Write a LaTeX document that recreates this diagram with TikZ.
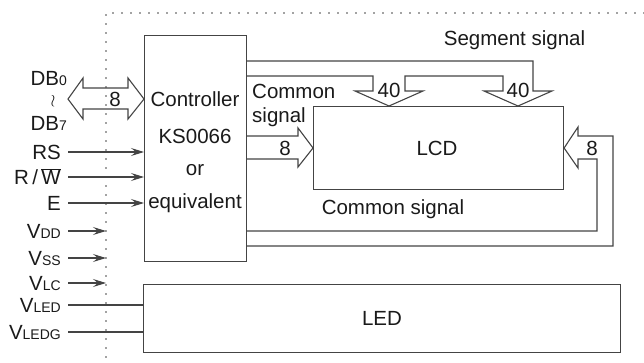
\documentclass[tikz,border=0pt]{standalone}
\usepackage{fontspec}
\setmainfont{Liberation Sans}
\usetikzlibrary{arrows.meta}
\definecolor{lncol}{HTML}{444444}
\definecolor{txcol}{HTML}{1A1A1A}
\newcommand{\sbs}[1]{{\fontsize{14}{14}\selectfont #1}}
\begin{document}
\begin{tikzpicture}[x=1pt,y=-1pt,
  wire/.style={draw=lncol, line width=1.1pt, line join=miter},
  boxed/.style={draw=lncol, line width=1.1pt, inner sep=0pt, anchor=north west},
  lbl/.style={text=txcol, font=\fontsize{20.5}{24}\selectfont, inner sep=0pt},
  tipped/.style={-{Stealth[length=13pt,width=8pt,inset=5pt]}},
  dots/.style={draw=lncol, line width=1.6pt, line cap=round, dash pattern=on 0pt off 9pt}]
\useasboundingbox (0,0) rectangle (644,362);

% dotted module outline
\coordinate (dc) at (106,13);
\draw[dots] (644,13) -- (dc) -- (106,362);

% boxes
\node[boxed, minimum width=102pt, minimum height=226.5pt] (ctrl) at (144,34.5) {};
\node[boxed, minimum width=250pt, minimum height=83pt] (lcd) at (313,106) {};
\node[boxed, minimum width=477pt, minimum height=68pt] (led) at (143,284) {};

\node[lbl, anchor=base] (c1) at (195,106.3) {Controller};
\node[lbl, anchor=base] (c2) at (195,143.3) {KS0066};
\node[lbl, anchor=base] (c3) at (195,175.3) {or};
\node[lbl, anchor=base] (c4) at (195,208.3) {equivalent};
\node[lbl, anchor=base] (lcdt) at (437,155.3) {LCD};
\node[lbl, anchor=base] (ledt) at (382,325.3) {LED};

% DB bus double arrow
\draw[wire] (68,99) -- (83,78) -- (83,88) -- (128,88) -- (128,78) -- (ctrl.west |- 0,99)
  -- (128,119) -- (128,109) -- (83,109) -- (83,119) -- cycle;
\node[lbl, anchor=base] (db8) at (115,106.3) {8};

% segment signal arrows
\draw[wire] (ctrl.east |- 0,61) -- (533,61) -- (533,91) -- (552,91) -- (lcd.north -| 518,0)
  -- (484,91) -- (503,91) -- (503,76) -- (405,76) -- (405,91) -- (423,91)
  -- (lcd.north -| 389,0) -- (355,91) -- (373,91) -- (373,76) -- (ctrl.east |- 0,76);
\node[lbl, anchor=base] (s40a) at (389,97.3) {40};
\node[lbl, anchor=base] (s40b) at (518,97.3) {40};
\node[lbl, anchor=base] (segt) at (514.5,45.3) {Segment signal};

% common signal arrow (left)
\draw[wire] (ctrl.east |- 0,136) -- (298,136) -- (298,128) -- (lcd.west |- 0,148)
  -- (298,167) -- (298,159) -- (ctrl.east |- 0,159);
\node[lbl, anchor=base] (c8a) at (285,155.3) {8};
\node[lbl, anchor=base west] (cst1) at (252,98.3) {Common};
\node[lbl, anchor=base west] (cst2) at (252,122.3) {signal};

% common signal arrow (right)
\draw[wire] (ctrl.east |- 0,246) -- (613,246) -- (613,136) -- (578,136) -- (578,127)
  -- (lcd.east |- 0,148) -- (578,168) -- (578,159) -- (597,159) -- (597,231) -- (ctrl.east |- 0,231);
\node[lbl, anchor=base] (c8b) at (592,155.3) {8};
\node[lbl, anchor=base] (cst3) at (393,214.3) {Common signal};

% left side pins
\node[lbl, anchor=base east] (db0) at (67,85.3) {DB\sbs{0}};
\node[lbl, anchor=center] (dbw) at (53,101) {\fontsize{17}{17}\selectfont$\wr$};
\node[lbl, anchor=base east] (db7) at (67,130.3) {DB\sbs{7}};
\node[lbl, anchor=base east] (rs) at (61,159.3) {RS};
\node[lbl, anchor=base east] (rw) at (61,184.3) {R\,/\,$\overline{\mbox{W}}$};
\node[lbl, anchor=base east] (en) at (61,210.3) {E};
\node[lbl, anchor=base east] (vdd) at (61,238.3) {V\sbs{DD}};
\node[lbl, anchor=base east] (vss) at (61,265.3) {V\sbs{SS}};
\node[lbl, anchor=base east] (vlc) at (61,290.3) {V\sbs{LC}};
\node[lbl, anchor=base east] (vled) at (61,312.3) {V\sbs{LED}};
\node[lbl, anchor=base east] (vledg) at (61,339.3) {V\sbs{LEDG}};

\draw[wire, tipped] (68,152) -- (ctrl.west |- 0,152);
\draw[wire, tipped] (68,177) -- (ctrl.west |- 0,177);
\draw[wire, tipped] (68,203) -- (ctrl.west |- 0,203);
\draw[wire, tipped] (68,231) -- (dc |- 0,231);
\draw[wire, tipped] (68,258) -- (dc |- 0,258);
\draw[wire, tipped] (68,283) -- (dc |- 0,283);
\draw[wire] (68,305) -- (led.west |- 0,305);
\draw[wire] (68,332) -- (led.west |- 0,332);
\end{tikzpicture}
\end{document}
